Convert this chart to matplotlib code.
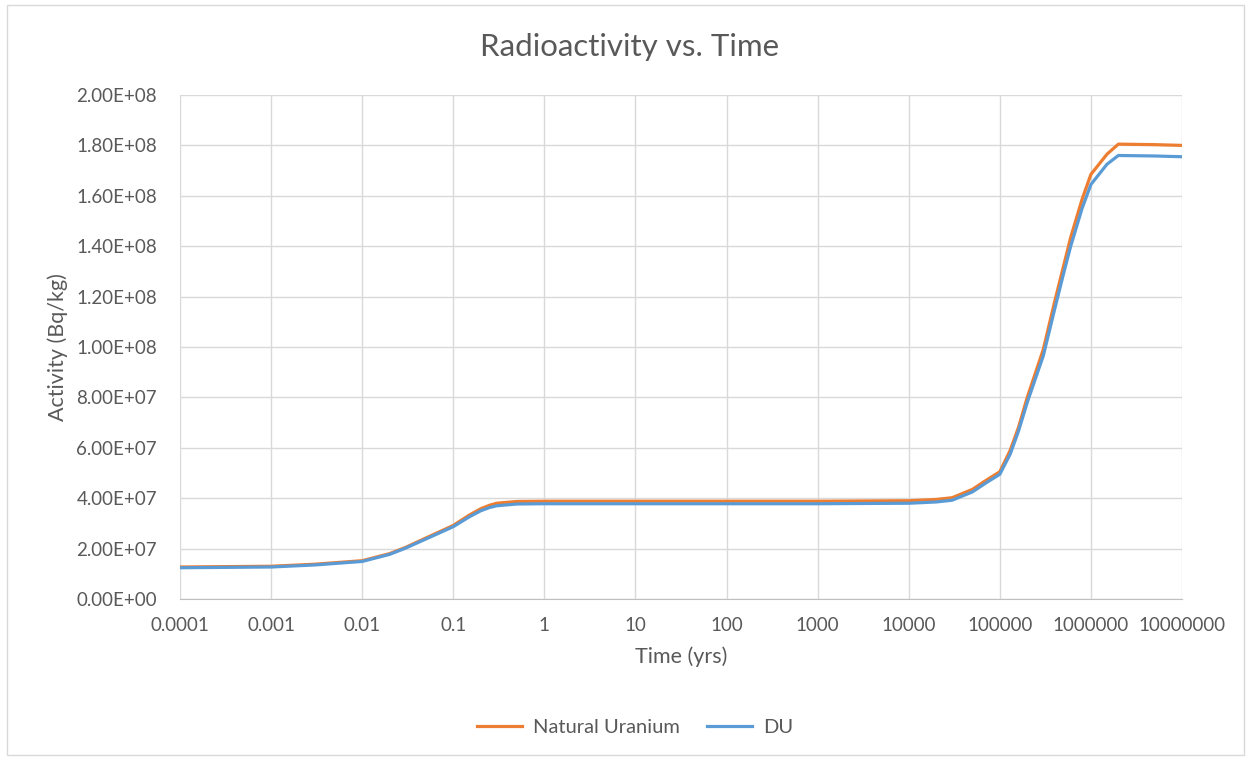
import matplotlib.pyplot as plt
from matplotlib.patches import Rectangle

# time points (years)
t = [1e-4, 1e-3, 3e-3, 1e-2, 2e-2, 3e-2, 5e-2, 0.1, 0.15, 0.2, 0.25, 0.3, 0.5,
     1, 10, 100, 1000, 1e4, 2e4, 3e4, 5e4, 7e4, 1e5, 1.3e5, 1.6e5, 2e5, 3e5,
     4e5, 5e5, 6e5, 8e5, 1e6, 1.5e6, 2e6, 5e6, 1e7]

# activity (Bq/kg)
nat_u = [1.27e7, 1.30e7, 1.38e7, 1.52e7, 1.80e7, 2.05e7, 2.42e7, 2.92e7,
         3.33e7, 3.58e7, 3.72e7, 3.80e7, 3.87e7, 3.88e7, 3.88e7, 3.88e7, 3.88e7,
         3.90e7, 3.95e7, 4.02e7, 4.35e7, 4.70e7, 5.05e7, 5.90e7, 6.80e7, 8.00e7,
         9.90e7, 1.18e8, 1.32e8, 1.435e8, 1.586e8, 1.685e8, 1.765e8,
         1.805e8, 1.803e8, 1.80e8]
du = [1.24e7, 1.27e7, 1.35e7, 1.49e7, 1.77e7, 2.02e7, 2.38e7, 2.87e7,
      3.26e7, 3.50e7, 3.63e7, 3.70e7, 3.77e7, 3.78e7, 3.78e7, 3.78e7, 3.78e7,
      3.80e7, 3.85e7, 3.92e7, 4.25e7, 4.60e7, 4.95e7, 5.75e7, 6.65e7, 7.80e7,
      9.65e7, 1.15e8, 1.29e8, 1.40e8, 1.55e8, 1.645e8, 1.725e8,
      1.76e8, 1.758e8, 1.755e8]

xticks = [1e-4, 1e-3, 1e-2, 0.1, 1, 10, 100, 1000, 1e4, 1e5, 1e6, 1e7]
xlabels = ["0.0001", "0.001", "0.01", "0.1", "1", "10", "100", "1000",
           "10000", "100000", "1000000", "10000000"]
yticks = [i * 2e7 for i in range(11)]
ylabels = ["0.00E+00", "2.00E+07", "4.00E+07", "6.00E+07", "8.00E+07", "1.00E+08",
           "1.20E+08", "1.40E+08", "1.60E+08", "1.80E+08", "2.00E+08"]

plt.rcParams['font.family'] = ['Lato', 'DejaVu Sans']
txt = '#595959'
W, H = 1251, 760
fig = plt.figure(figsize=(W / 100, H / 100), dpi=100)
fig.patches.append(Rectangle((7 / W, 5 / H), 1237 / W, 750 / H, transform=fig.transFigure,
                             fill=False, edgecolor='#D9D9D9', lw=1))

ax = fig.add_axes([180 / W, 1 - 599 / H, 1002 / W, 504 / H])
ax.plot(t, nat_u, color='#ED7D31', lw=2.3, label='Natural Uranium', solid_joinstyle='round')
ax.plot(t, du, color='#5B9BD5', lw=2.3, label='DU', solid_joinstyle='round')

ax.set_xscale('log')
ax.set_xlim(1e-4, 1e7)
ax.set_ylim(0, 2e8)
ax.set_xticks(xticks, xlabels)
ax.minorticks_off()
ax.set_yticks(yticks, ylabels)
ax.grid(True, color='#D9D9D9', lw=1)
ax.set_axisbelow(True)
for s in ['top', 'right', 'left']:
    ax.spines[s].set_visible(False)
ax.spines['bottom'].set_color('#BFBFBF')
ax.tick_params(length=0, colors=txt, labelsize=13.5)
ax.tick_params(axis='x', pad=13)
ax.tick_params(axis='y', pad=16.5)

fig.text(630 / W, 1 - 47 / H, 'Radioactivity vs. Time', ha='center', va='center',
         fontsize=22.5, color=txt)
ax.set_xlabel('Time (yrs)', fontsize=15.5, color=txt, labelpad=9)
ax.set_ylabel('Activity (Bq/kg)', fontsize=15.5, color=txt, labelpad=6)

fig.legend(loc='center', bbox_to_anchor=(635 / W, 1 - 727 / H), ncol=2, frameon=False,
           fontsize=14.5, labelcolor=txt, handlelength=2.25, handletextpad=0.55,
           columnspacing=1.35)

fig.savefig('out.png', dpi=100)
